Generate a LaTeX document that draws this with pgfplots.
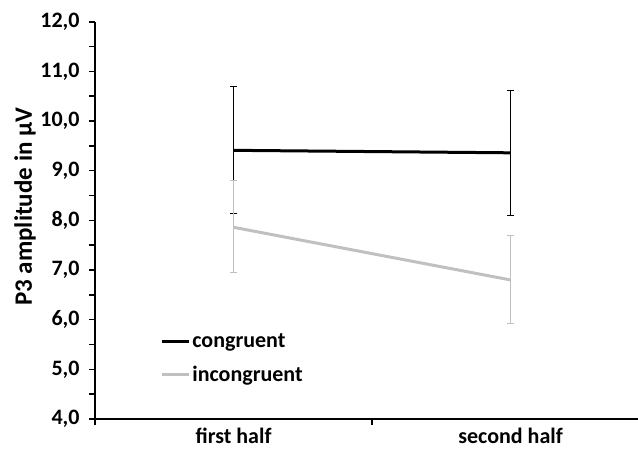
\documentclass[border=0pt]{standalone}
\usepackage{pgfplots}
\pgfplotsset{compat=1.18}
\usepackage{fontspec}
\setmainfont{Carlito}
\definecolor{incgray}{RGB}{192,192,192}
\newcommand{\lblfont}{\fontsize{22bp}{26bp}\selectfont\bfseries}
\newcommand{\ylblfont}{\fontsize{25bp}{30bp}\selectfont\bfseries}
\begin{document}
\begin{tikzpicture}
\begin{axis}[
  at={(0,0)}, anchor=south west,
  scale only axis,
  width=543bp, height=397.3bp,
  xmin=-0.5, xmax=1.46,
  ymin=4, ymax=12,
  axis x line*=bottom, axis y line*=left,
  axis line style={line width=2.2bp, black},
  tick align=outside,
  xtick={-0.5,0.5}, xticklabels={},
  extra x ticks={0,1},
  extra x tick labels={first half, second half},
  extra x tick style={major tick length=0pt, tick style={draw=none}},
  ytick={4,5,...,12},
  minor ytick={4.5,5.5,...,11.5},
  major tick length=6bp, minor tick length=6bp,
  every tick/.style={line width=1.6bp, black},
  ticklabel style={font=\lblfont},
  yticklabel style={xshift=-6bp},
  xticklabel style={yshift=-6bp},
  /pgf/number format/.cd, assume math mode=true, fixed, fixed zerofill, precision=1, use comma,
  /pgfplots/.cd,
  ylabel={P3 amplitude in μV},
  every axis y label/.style={at={(axis description cs:-0.129,0.534)}, rotate=90, anchor=center, font=\ylblfont},
  legend style={at={(rel axis cs:0.12,0.22)}, anchor=north west, draw=none, fill=none,
    font=\lblfont, row sep=13bp, inner sep=0pt,
    nodes={inner xsep=2bp}},
  legend cell align=left,
  legend image code/.code={\draw[#1] (0bp,0bp) -- (27bp,0bp);},
  clip=false,
]
\addplot[black, line width=3bp, mark=none,
  error bars/.cd, y dir=both, y explicit,
  error bar style={line width=1bp, black},
  error mark options={rotate=90, mark size=3.5bp, line width=1bp, black}]
  table[x=x, y=y, y error plus=ep, y error minus=em] {
x y ep em
0 9.41 1.29 1.27
1 9.36 1.25 1.27
};
\addlegendentry{congruent}
\addplot[incgray, line width=3bp, mark=none,
  error bars/.cd, y dir=both, y explicit,
  error bar style={line width=1bp, incgray},
  error mark options={rotate=90, mark size=3.5bp, line width=1bp, incgray}]
  table[x=x, y=y, y error plus=ep, y error minus=em] {
x y ep em
0 7.86 0.95 0.92
1 6.80 0.89 0.87
};
\addlegendentry{incongruent}
\end{axis}
\pgfresetboundingbox
\path[use as bounding box] (-95bp,-36bp) rectangle (543bp,419bp);
\end{tikzpicture}
\end{document}
